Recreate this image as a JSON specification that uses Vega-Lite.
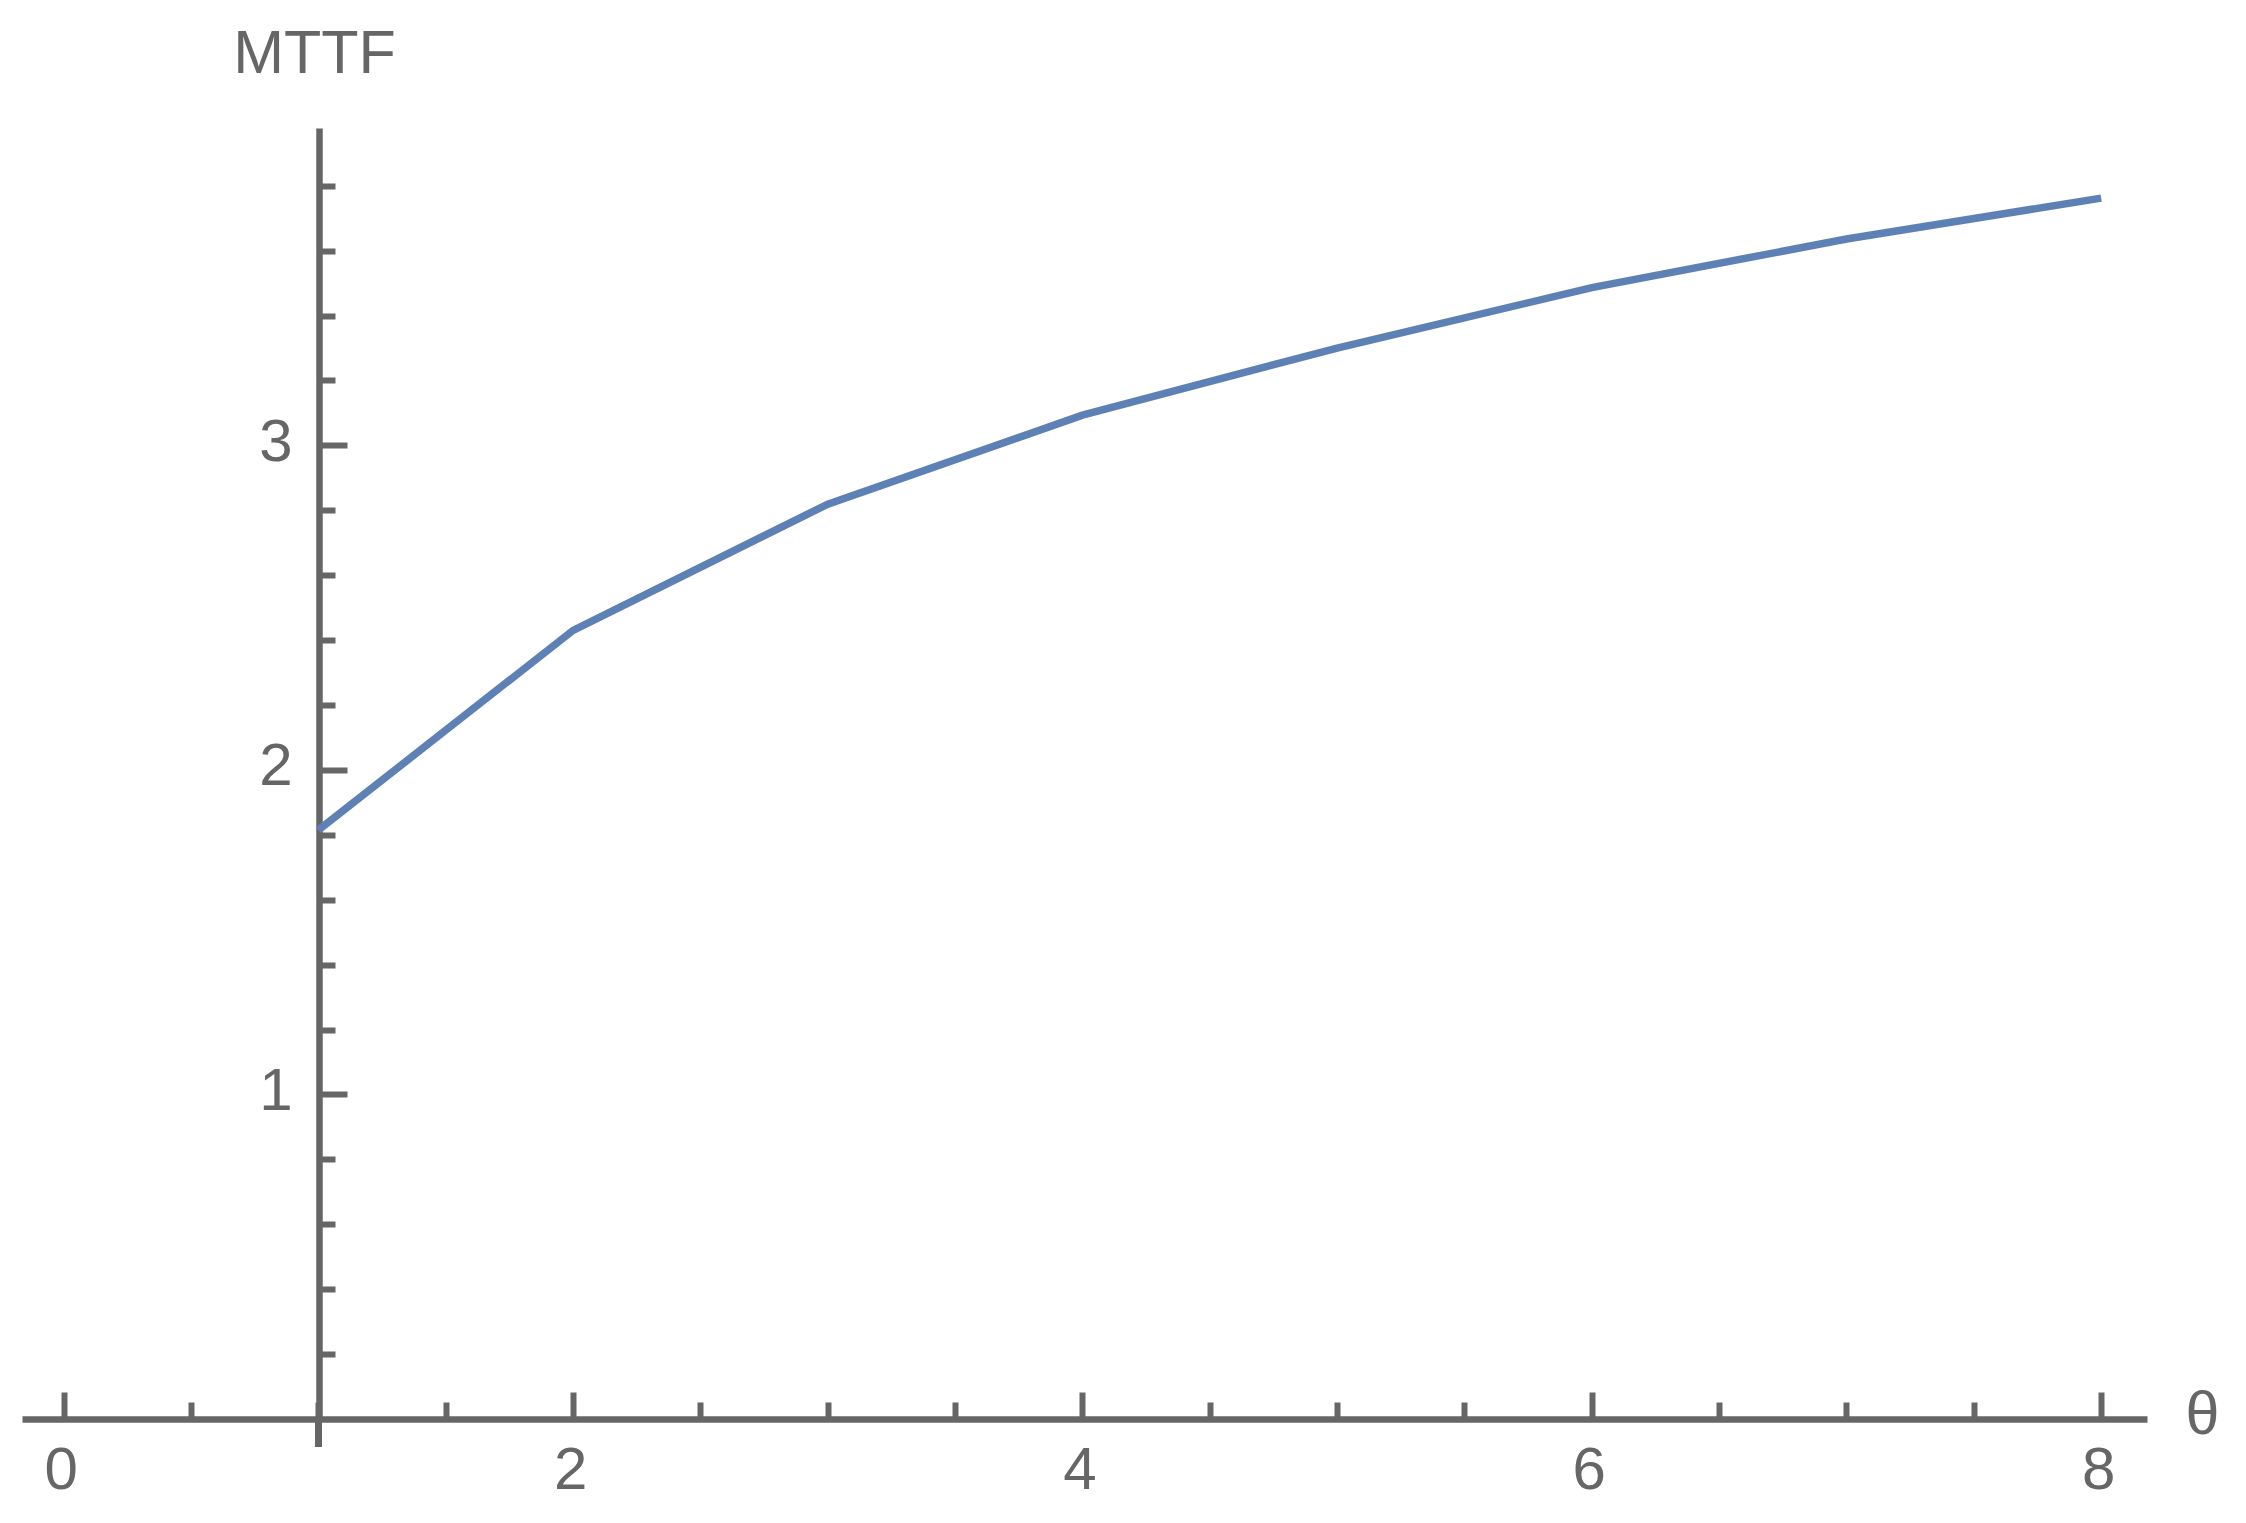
{
  "$schema": "https://vega.github.io/schema/vega-lite/v6.json",
  "width": 2125,
  "height": 1291,
  "autosize": {"type": "none"},
  "padding": {"left": 22, "top": 128, "right": 99, "bottom": 104},
  "background": "white",
  "config": {
    "view": {"stroke": null},
    "axis": {
      "grid": false,
      "domainColor": "#666666",
      "domainWidth": 6.5,
      "domainCap": "butt",
      "tickColor": "#666666",
      "tickWidth": 6,
      "labelColor": "#666666",
      "labelFont": "Liberation Sans",
      "labelFontSize": 60,
      "titleFont": "Liberation Sans",
      "titleFontSize": 61,
      "titleColor": "#666666",
      "titleFontWeight": "normal"
    }
  },
  "data": {
    "values": [
      {"theta": 1, "MTTF": 1.815},
      {"theta": 2, "MTTF": 2.43},
      {"theta": 3, "MTTF": 2.819},
      {"theta": 4, "MTTF": 3.093},
      {"theta": 5, "MTTF": 3.3},
      {"theta": 6, "MTTF": 3.486},
      {"theta": 7, "MTTF": 3.636},
      {"theta": 8, "MTTF": 3.762}
    ]
  },
  "layer": [
    {
      "mark": {"type": "line", "color": "#5E81B5", "strokeWidth": 7.5},
      "encoding": {
        "x": {
          "field": "theta",
          "type": "quantitative",
          "scale": {"domain": [-0.164, 8.18], "nice": false, "zero": false},
          "axis": {
            "orient": "bottom",
            "values": [0, 2, 4, 6, 8],
            "tickSize": -27,
            "labelPadding": 49,
            "labelBaseline": "top",
            "labelOffset": -3,
            "labelFlush": false,
            "labelOverlap": false,
            "title": "θ",
            "titleX": 2180,
            "titleY": 14,
            "titleAlign": "center",
            "titleBaseline": "alphabetic"
          }
        },
        "y": {
          "field": "MTTF",
          "type": "quantitative",
          "scale": {"domain": [0, 3.978], "nice": false, "zero": false},
          "axis": {
            "orient": "left",
            "offset": -297,
            "values": [1, 2, 3],
            "tickSize": -28,
            "labelPadding": 55,
            "labelOffset": -3,
            "labelFlush": false,
            "labelOverlap": false,
            "title": "MTTF",
            "titleAngle": 0,
            "titleX": -5,
            "titleY": -56,
            "titleAlign": "center",
            "titleBaseline": "alphabetic"
          }
        }
      }
    },
    {
      "mark": {"type": "rule", "color": "#666666", "strokeWidth": 6.5},
      "encoding": {
        "x": {
          "datum": 1,
          "type": "quantitative",
          "scale": {"domain": [-0.164, 8.18], "nice": false, "zero": false},
          "axis": {
            "orient": "bottom",
            "values": [0.5, 1, 1.5, 2.5, 3, 3.5, 4.5, 5, 5.5, 6.5, 7, 7.5],
            "tickSize": -17,
            "labels": false,
            "domain": false,
            "title": null
          }
        },
        "y": {
          "datum": 0,
          "type": "quantitative",
          "scale": {"domain": [0, 3.978], "nice": false, "zero": false},
          "axis": {
            "orient": "left",
            "offset": -297,
            "values": [0.2, 0.4, 0.6, 0.8, 1.2, 1.4, 1.6, 1.8, 2.2, 2.4, 2.6, 2.8, 3.2, 3.4, 3.6, 3.8],
            "tickSize": -16,
            "labels": false,
            "domain": false,
            "title": null
          }
        },
        "y2": {"datum": -0.086}
      }
    }
  ],
  "resolve": {"axis": {"x": "independent", "y": "independent"}}
}
